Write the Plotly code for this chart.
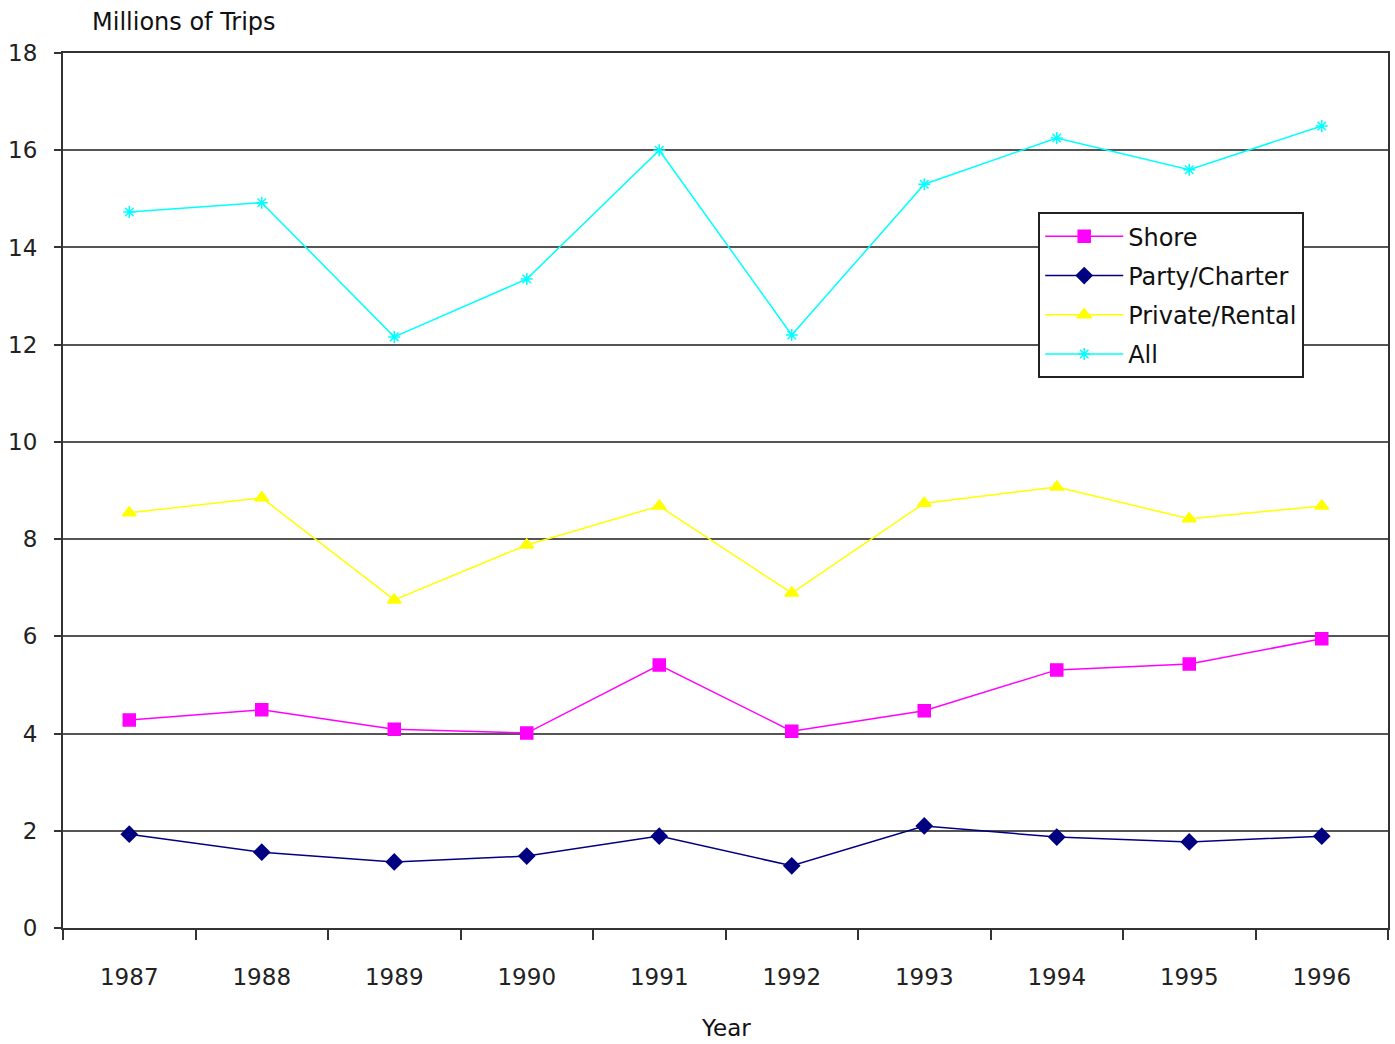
import plotly.graph_objects as go

years = ["1987", "1988", "1989", "1990", "1991", "1992", "1993", "1994", "1995", "1996"]
shore = [4.28, 4.49, 4.09, 4.01, 5.41, 4.05, 4.47, 5.31, 5.43, 5.95]
party_charter = [1.93, 1.56, 1.36, 1.48, 1.89, 1.28, 2.10, 1.87, 1.77, 1.89]
private_rental = [8.54, 8.85, 6.75, 7.88, 8.68, 6.89, 8.74, 9.07, 8.42, 8.68]
all_trips = [14.73, 14.92, 12.16, 13.35, 16.0, 12.2, 15.3, 16.25, 15.6, 16.5]

FONT = "DejaVu Sans"

series = [
    ("Shore", shore, "#FF00FF", "square", 12),
    ("Party/Charter", party_charter, "#000080", "diamond", 12),
    ("Private/Rental", private_rental, "#FFFF00", "triangle-up", 12),
    ("All", all_trips, "#00FFFF", "asterisk-open", 10),
]

fig = go.Figure()
for i, (name, vals, color, symbol, size) in enumerate(series):
    fig.add_trace(go.Scatter(
        x=years, y=vals, name=name, mode="lines+markers",
        legendgroup=f"g{i}",
        line=dict(color=color, width=1.5),
        marker=dict(symbol=symbol, size=size, color=color,
                    line=dict(color=color, width=1.5)),
    ))

fig.update_layout(
    width=1395, height=1044,
    margin=dict(l=63, r=5, t=53, b=116),
    paper_bgcolor="white", plot_bgcolor="white",
    font=dict(family=FONT, size=23, color="#111111"),
    showlegend=True,
    legend=dict(
        x=0.736, y=0.818, xanchor="left", yanchor="top",
        bgcolor="white", bordercolor="#222222", borderwidth=2,
        font=dict(family=FONT, size=24, color="#111111"),
        tracegroupgap=5,
        itemwidth=78,
        entrywidth=210, entrywidthmode="pixels",
    ),
    xaxis=dict(
        type="category", range=[-0.5, 9.5],
        tickson="boundaries", ticks="outside", ticklen=10, tickwidth=2,
        tickcolor="#333333",
        showline=True, linecolor="#333333", linewidth=2, mirror=True,
        showgrid=False, ticklabelstandoff=27,
        tickfont=dict(family=FONT, size=23, color="#222222"),
    ),
    yaxis=dict(
        range=[0, 18], dtick=2, tick0=0,
        ticks="outside", ticklen=7, tickwidth=2, tickcolor="#333333",
        showline=True, linecolor="#333333", linewidth=2, mirror=True,
        showgrid=True, gridcolor="#555555", gridwidth=2,
        zeroline=False, ticklabelstandoff=12,
        tickfont=dict(family=FONT, size=23, color="#222222"),
    ),
    annotations=[
        dict(text="Millions of Trips", xref="paper", yref="paper",
             x=0.02, y=1.035, xanchor="left", yanchor="middle",
             showarrow=False, font=dict(family=FONT, size=24, color="#111111")),
        dict(text="Year", xref="paper", yref="paper",
             x=0.5, y=-0.114, xanchor="center", yanchor="middle",
             showarrow=False, font=dict(family=FONT, size=23, color="#111111")),
    ],
)

fig.write_html("out.html")
